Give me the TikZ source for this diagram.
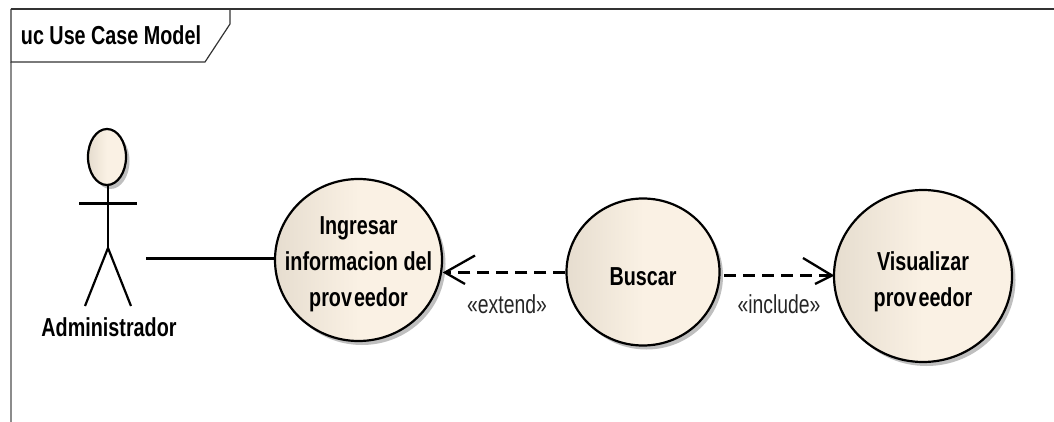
\documentclass[tikz,border=0pt]{standalone}
\usepackage{fontspec}
\setmainfont{Liberation Sans}
\newfontfamily\labelfam[FakeStretch=0.76]{Liberation Sans}
\newfontfamily\labelthin[FakeStretch=0.745]{Liberation Sans}
\usetikzlibrary{shapes.geometric,shadows}
\definecolor{ucdark}{HTML}{E6DDCF}
\definecolor{uclight}{HTML}{FAF1E4}
\pgfdeclarehorizontalshading{ucgrad}{100bp}{color(0bp)=(ucdark); color(25bp)=(ucdark); color(50bp)=(uclight); color(100bp)=(uclight)}
\newcommand{\uctext}[2]{\raisebox{#1}[0pt][0pt]{\makebox[0pt]{\begin{tabular}{@{}c@{}}#2\end{tabular}}}}
\tikzset{
  x=1pt,y=-1pt,
  usecase/.style={ellipse,draw=black,line width=2.2pt,shading=ucgrad,inner sep=0pt,
    text=black,font=\labelfam\bfseries\fontsize{26}{36}\selectfont,
    general shadow={shadow xshift=3.5pt,shadow yshift=-4pt,fill=black!25}},
  stick/.style={line width=2.2pt,draw=black},
  conn/.style={line width=2.5pt,draw=black},
  dep/.style={conn,dash pattern=on 12pt off 7pt},
  open/.style={line width=2.3pt,draw=black,line join=miter},
  stereo/.style={font=\labelthin\fontsize{26}{30}\selectfont,text=black!85,inner sep=0pt},
  boldlabel/.style={font=\labelfam\bfseries\fontsize{26}{30}\selectfont,text=black,inner sep=0pt},
}
\begin{document}
\begin{tikzpicture}
\useasboundingbox (0,0) rectangle (1054,422);
% frame
\coordinate (ftl) at (11,9);
\coordinate (ftr) at (1054,9);
\coordinate (fbl) at (11,422);
\coordinate (ttr) at (230,9);
\coordinate (tn) at (230,24);
\coordinate (tb) at (205,62);
\coordinate (tl) at (11,62);
\draw[line width=1.2pt,draw=black!45] (tl) -- (fbl);
\draw[line width=1.2pt,draw=black!80] (ftl) -- (ftr);
\draw[line width=1.2pt,draw=black!80] (ttr) -- (tn) -- (tb) -- (tl) -- (ftl);
\node[boldlabel,anchor=center] (frametitle) at (111,35) {uc Use Case Model};
% actor
\node[usecase,minimum width=38pt,minimum height=56pt] (head) at (107,157) {};
\coordinate (neck) at (108,186);
\coordinate (hip) at (108,248);
\coordinate (armL) at (79,203.5);
\coordinate (armR) at (137,203.5);
\coordinate (legL) at (85,306);
\coordinate (legR) at (131,306);
\draw[stick] (neck) -- (hip);
\draw[stick,line width=2.5pt] (armL) -- (armR);
\draw[stick] (legL) -- (hip) -- (legR);
\node[boldlabel] (actorname) at (109,327) {Administrador};
% use cases
\node[usecase,minimum width=167pt,minimum height=162pt] (ing) at (358.5,260) {\uctext{-10pt}{Ingresar\\informacion del\\prov\kern2pt eedor}};
\node[usecase,minimum width=153pt,minimum height=147pt] (bus) at (643,272) {\uctext{-13pt}{Buscar}};
\node[usecase,minimum width=178pt,minimum height=172pt] (vis) at (923,276) {\uctext{-12pt}{Visualizar\\prov\kern2pt eedor}};
% association
\coordinate (assoc) at (146,258.5);
\draw[conn] (assoc) -- (assoc -| ing.west);
% extend
\coordinate (extTip) at (445,272.5);
\coordinate (extU) at (475,255.5);
\coordinate (extD) at (465,284);
\draw[dep] (bus.west |- extTip) -- (extTip);
\draw[open] (extU) -- (extTip) -- (extD);
\node[stereo] (extlabel) at (507,304) {«extend»};
% include
\coordinate (incTip) at (832,275.5);
\coordinate (incU) at (803,258);
\coordinate (incD) at (815,284);
\coordinate (incStart) at (724,275.5);
\draw[dep] (incStart) -- (incTip);
\draw[open] (incU) -- (incTip) -- (incD);
\node[stereo] (inclabel) at (779,304) {«include»};
\end{tikzpicture}
\end{document}
